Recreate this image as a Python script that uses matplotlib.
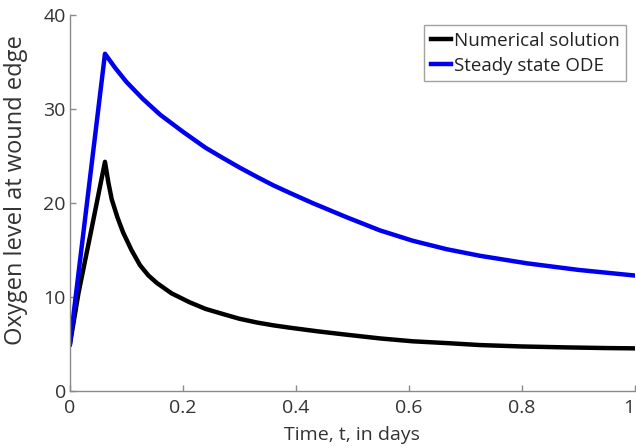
import matplotlib
matplotlib.use("Agg")
import matplotlib.pyplot as plt

# Data
t_num = [0.0, 0.015, 0.037, 0.062, 0.068, 0.074, 0.084, 0.094, 0.109, 0.124, 0.139,
         0.154, 0.180, 0.212, 0.240, 0.271, 0.300, 0.331, 0.360, 0.389, 0.44, 0.49,
         0.55, 0.607, 0.67, 0.726, 0.80, 0.88, 0.95, 1.0]
y_num = [5.0, 10.4, 16.9, 24.4, 22.2, 20.4, 18.5, 16.9, 15.0, 13.4, 12.3,
         11.5, 10.4, 9.45, 8.75, 8.2, 7.7, 7.3, 7.0, 6.75, 6.35, 6.0,
         5.6, 5.3, 5.1, 4.9, 4.75, 4.65, 4.58, 4.55]

t_ss = [0.0, 0.062, 0.080, 0.100, 0.129, 0.160, 0.200, 0.240, 0.271, 0.300, 0.331,
        0.360, 0.389, 0.43, 0.49, 0.549, 0.607, 0.667, 0.726, 0.809, 0.9, 1.0]
y_ss = [5.0, 35.9, 34.4, 32.9, 31.1, 29.4, 27.6, 25.9, 24.8, 23.8, 22.8,
        21.9, 21.1, 20.0, 18.5, 17.1, 16.0, 15.1, 14.4, 13.6, 12.9, 12.3]

xticks = [0, 0.2, 0.4, 0.6, 0.8, 1]
xticklabels = ["0", "0.2", "0.4", "0.6", "0.8", "1"]
yticks = [0, 10, 20, 30, 40]
yticklabels = ["0", "10", "20", "30", "40"]

plt.rcParams['font.family'] = ['Open Sans', 'DejaVu Sans']

fig = plt.figure(figsize=(6.36, 4.48), dpi=100)
ax = fig.add_axes([0.110, 0.127, 0.888, 0.839])

ax.plot(t_num, y_num, color='black', lw=3.2, label='Numerical solution')
ax.plot(t_ss, y_ss, color='#0000f0', lw=3.2, label='Steady state ODE')

ax.set_xlim(0, 1)
ax.set_ylim(0, 40)
ax.set_xticks(xticks)
ax.set_xticklabels(xticklabels)
ax.set_yticks(yticks)
ax.set_yticklabels(yticklabels)

for s in ['top', 'right']:
    ax.spines[s].set_visible(False)
for s in ['left', 'bottom']:
    ax.spines[s].set_color('#8a8a8a')
    ax.spines[s].set_linewidth(1.0)

ax.tick_params(direction='in', length=4, width=1, colors='#8a8a8a',
               labelcolor='#333333', labelsize=14)
ax.tick_params(axis='x', pad=6)
ax.tick_params(axis='y', pad=3)
ax.get_xticklabels()[-1].set_horizontalalignment('right')

ax.set_xlabel('Time, t, in days', fontsize=14, color='#333333', labelpad=6)
ax.set_ylabel('Oxygen level at wound edge', fontsize=17, color='#333333')
ax.yaxis.set_label_coords(-0.075, 0.535)

leg = ax.legend(loc='upper right', bbox_to_anchor=(0.985, 0.973), fontsize=13.5,
                frameon=True, fancybox=False, handlelength=1.1, handletextpad=0.15,
                borderpad=0.35, labelspacing=0.35, borderaxespad=0)
leg.get_frame().set_edgecolor('#8a8a8a')
leg.get_frame().set_linewidth(1.0)
for txt in leg.get_texts():
    txt.set_color('#222222')

fig.savefig('out.png', dpi=100)
